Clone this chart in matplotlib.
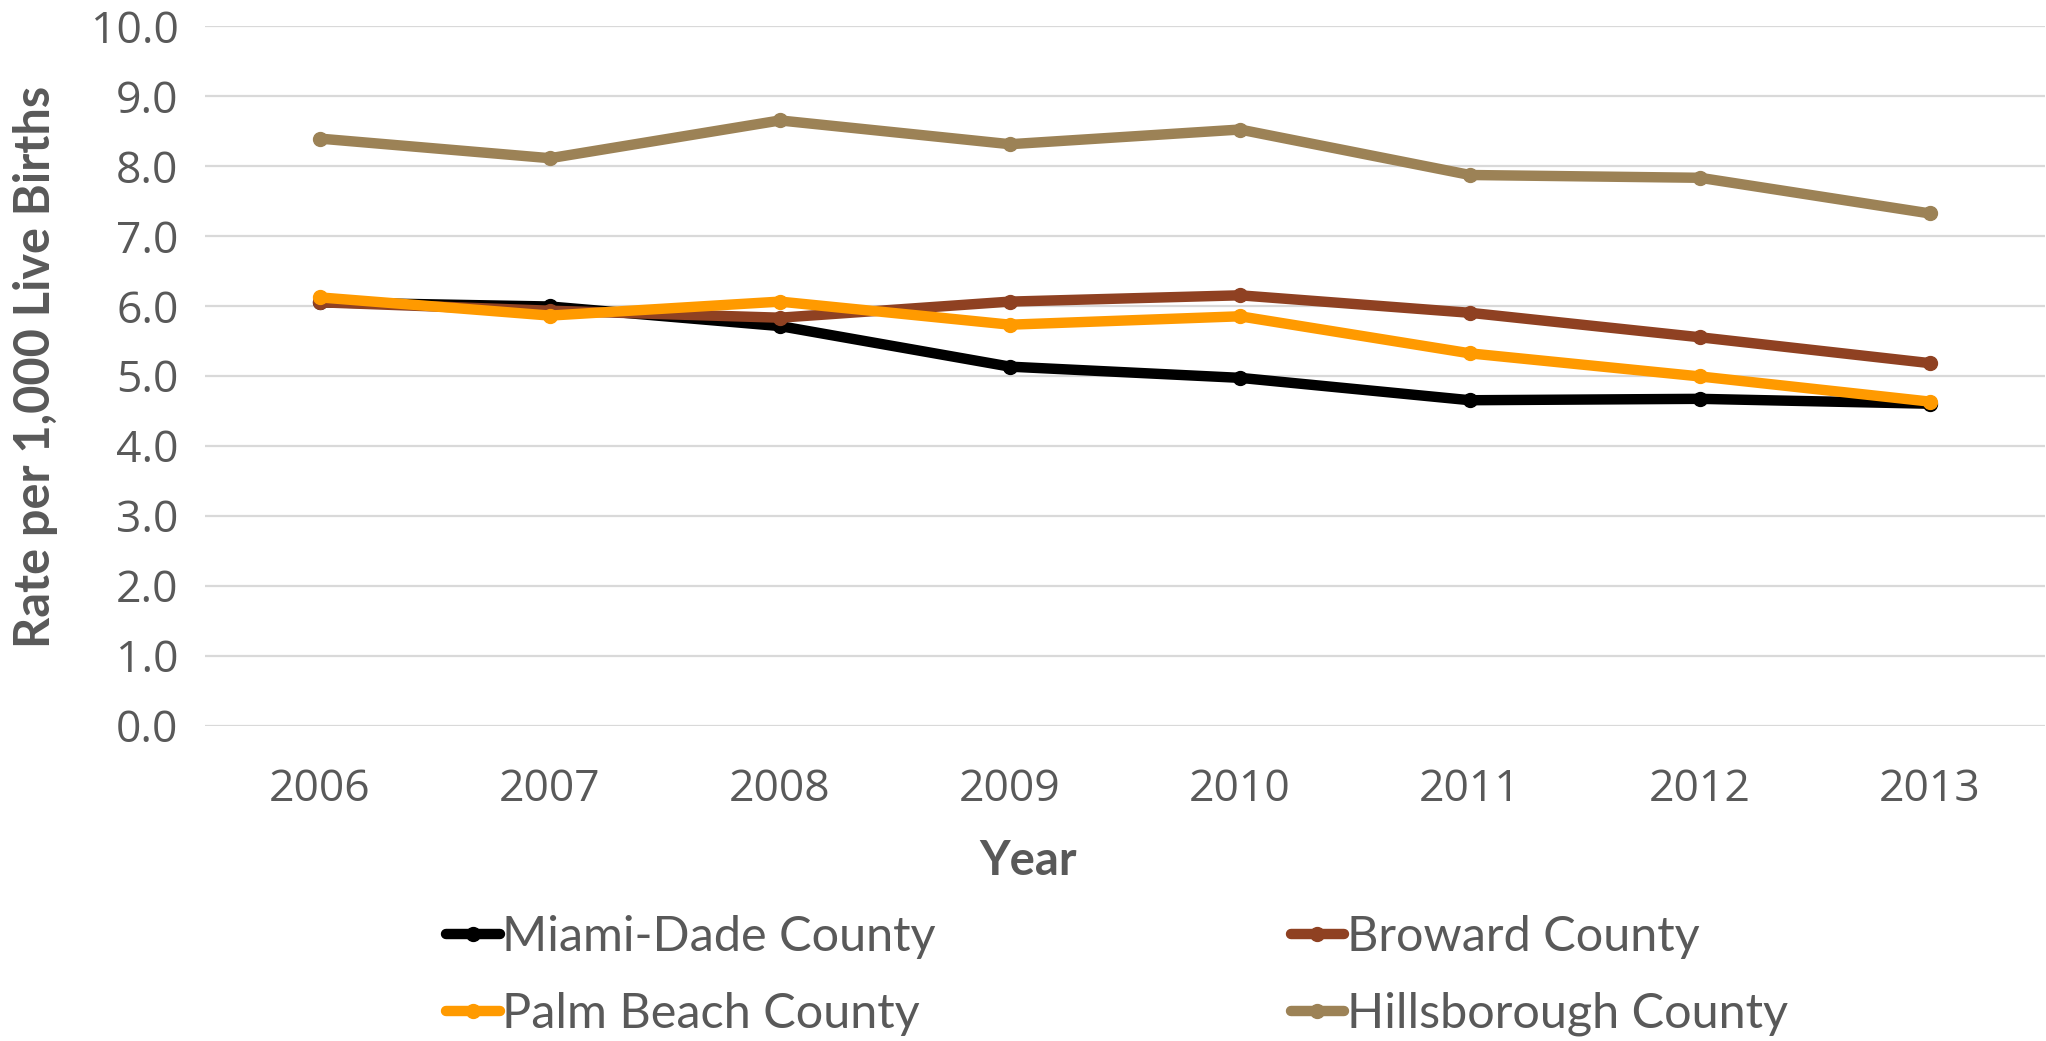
import matplotlib
matplotlib.use("Agg")
import matplotlib.pyplot as plt

# Rate per 1,000 live births
years = [2006, 2007, 2008, 2009, 2010, 2011, 2012, 2013]
miami_dade = [6.05, 5.99, 5.71, 5.13, 4.97, 4.65, 4.67, 4.60]
broward = [6.05, 5.93, 5.83, 6.06, 6.15, 5.90, 5.55, 5.18]
palm_beach = [6.12, 5.86, 6.06, 5.73, 5.85, 5.32, 4.99, 4.63]
hillsborough = [8.39, 8.11, 8.65, 8.31, 8.52, 7.87, 7.83, 7.32]

series = [
    ("Miami-Dade County", miami_dade, "#000000"),
    ("Broward County", broward, "#8F4122"),
    ("Palm Beach County", palm_beach, "#FF9A00"),
    ("Hillsborough County", hillsborough, "#9C8256"),
]

grey = "#595959"
W, H = 2046, 1041

fig = plt.figure(figsize=(W / 100, H / 100), dpi=100)
ax = fig.add_axes([205 / W, 1 - 725.5 / H, (2045 - 205) / W, (725.5 - 26) / H])

xpos = list(range(len(years)))
lines = {}
for name, vals, col in series:
    ln, = ax.plot(xpos, vals, color=col, lw=7.5, marker="o", ms=10, label=name,
                  solid_joinstyle="round", solid_capstyle="round")
    lines[name] = ln

ax.set_xlim(-0.5, len(years) - 0.5)
ax.set_ylim(0, 10)
ax.set_yticks([i for i in range(11)])
ax.set_yticklabels([f"{i:.1f}" for i in range(11)])
ax.set_xticks(xpos)
ax.set_xticklabels([str(y) for y in years])
ax.tick_params(length=0, labelsize=32, labelcolor=grey)
ax.tick_params(axis="x", pad=30)
ax.tick_params(axis="y", pad=19)
for lab in ax.get_xticklabels() + ax.get_yticklabels():
    lab.set_family("Open Sans")

ax.grid(axis="y", color="#D9D9D9", lw=1.6)
ax.set_axisbelow(True)
for s in ax.spines.values():
    s.set_visible(False)

fig.text(36 / W, 1 - 367 / H, "Rate per 1,000 Live Births", rotation=90,
         ha="center", va="center", fontsize=35, fontweight="bold",
         color=grey, family="Lato")
fig.text(1028 / W, 1 - 861 / H, "Year", ha="center", va="center",
         fontsize=34, fontweight="bold", color=grey, family="Lato")

order = ["Miami-Dade County", "Palm Beach County", "Broward County", "Hillsborough County"]
leg = fig.legend([lines[n] for n in order], order,
                 loc="upper left", bbox_to_anchor=(422 / W, 1 - 891 / H),
                 ncol=2, frameon=False, handlelength=1.1, handletextpad=0.05,
                 columnspacing=7.3, labelspacing=0.67, borderpad=0,
                 prop={"family": "Lato", "size": 35})
for t in leg.get_texts():
    t.set_color(grey)

fig.savefig("out.png", dpi=100)
